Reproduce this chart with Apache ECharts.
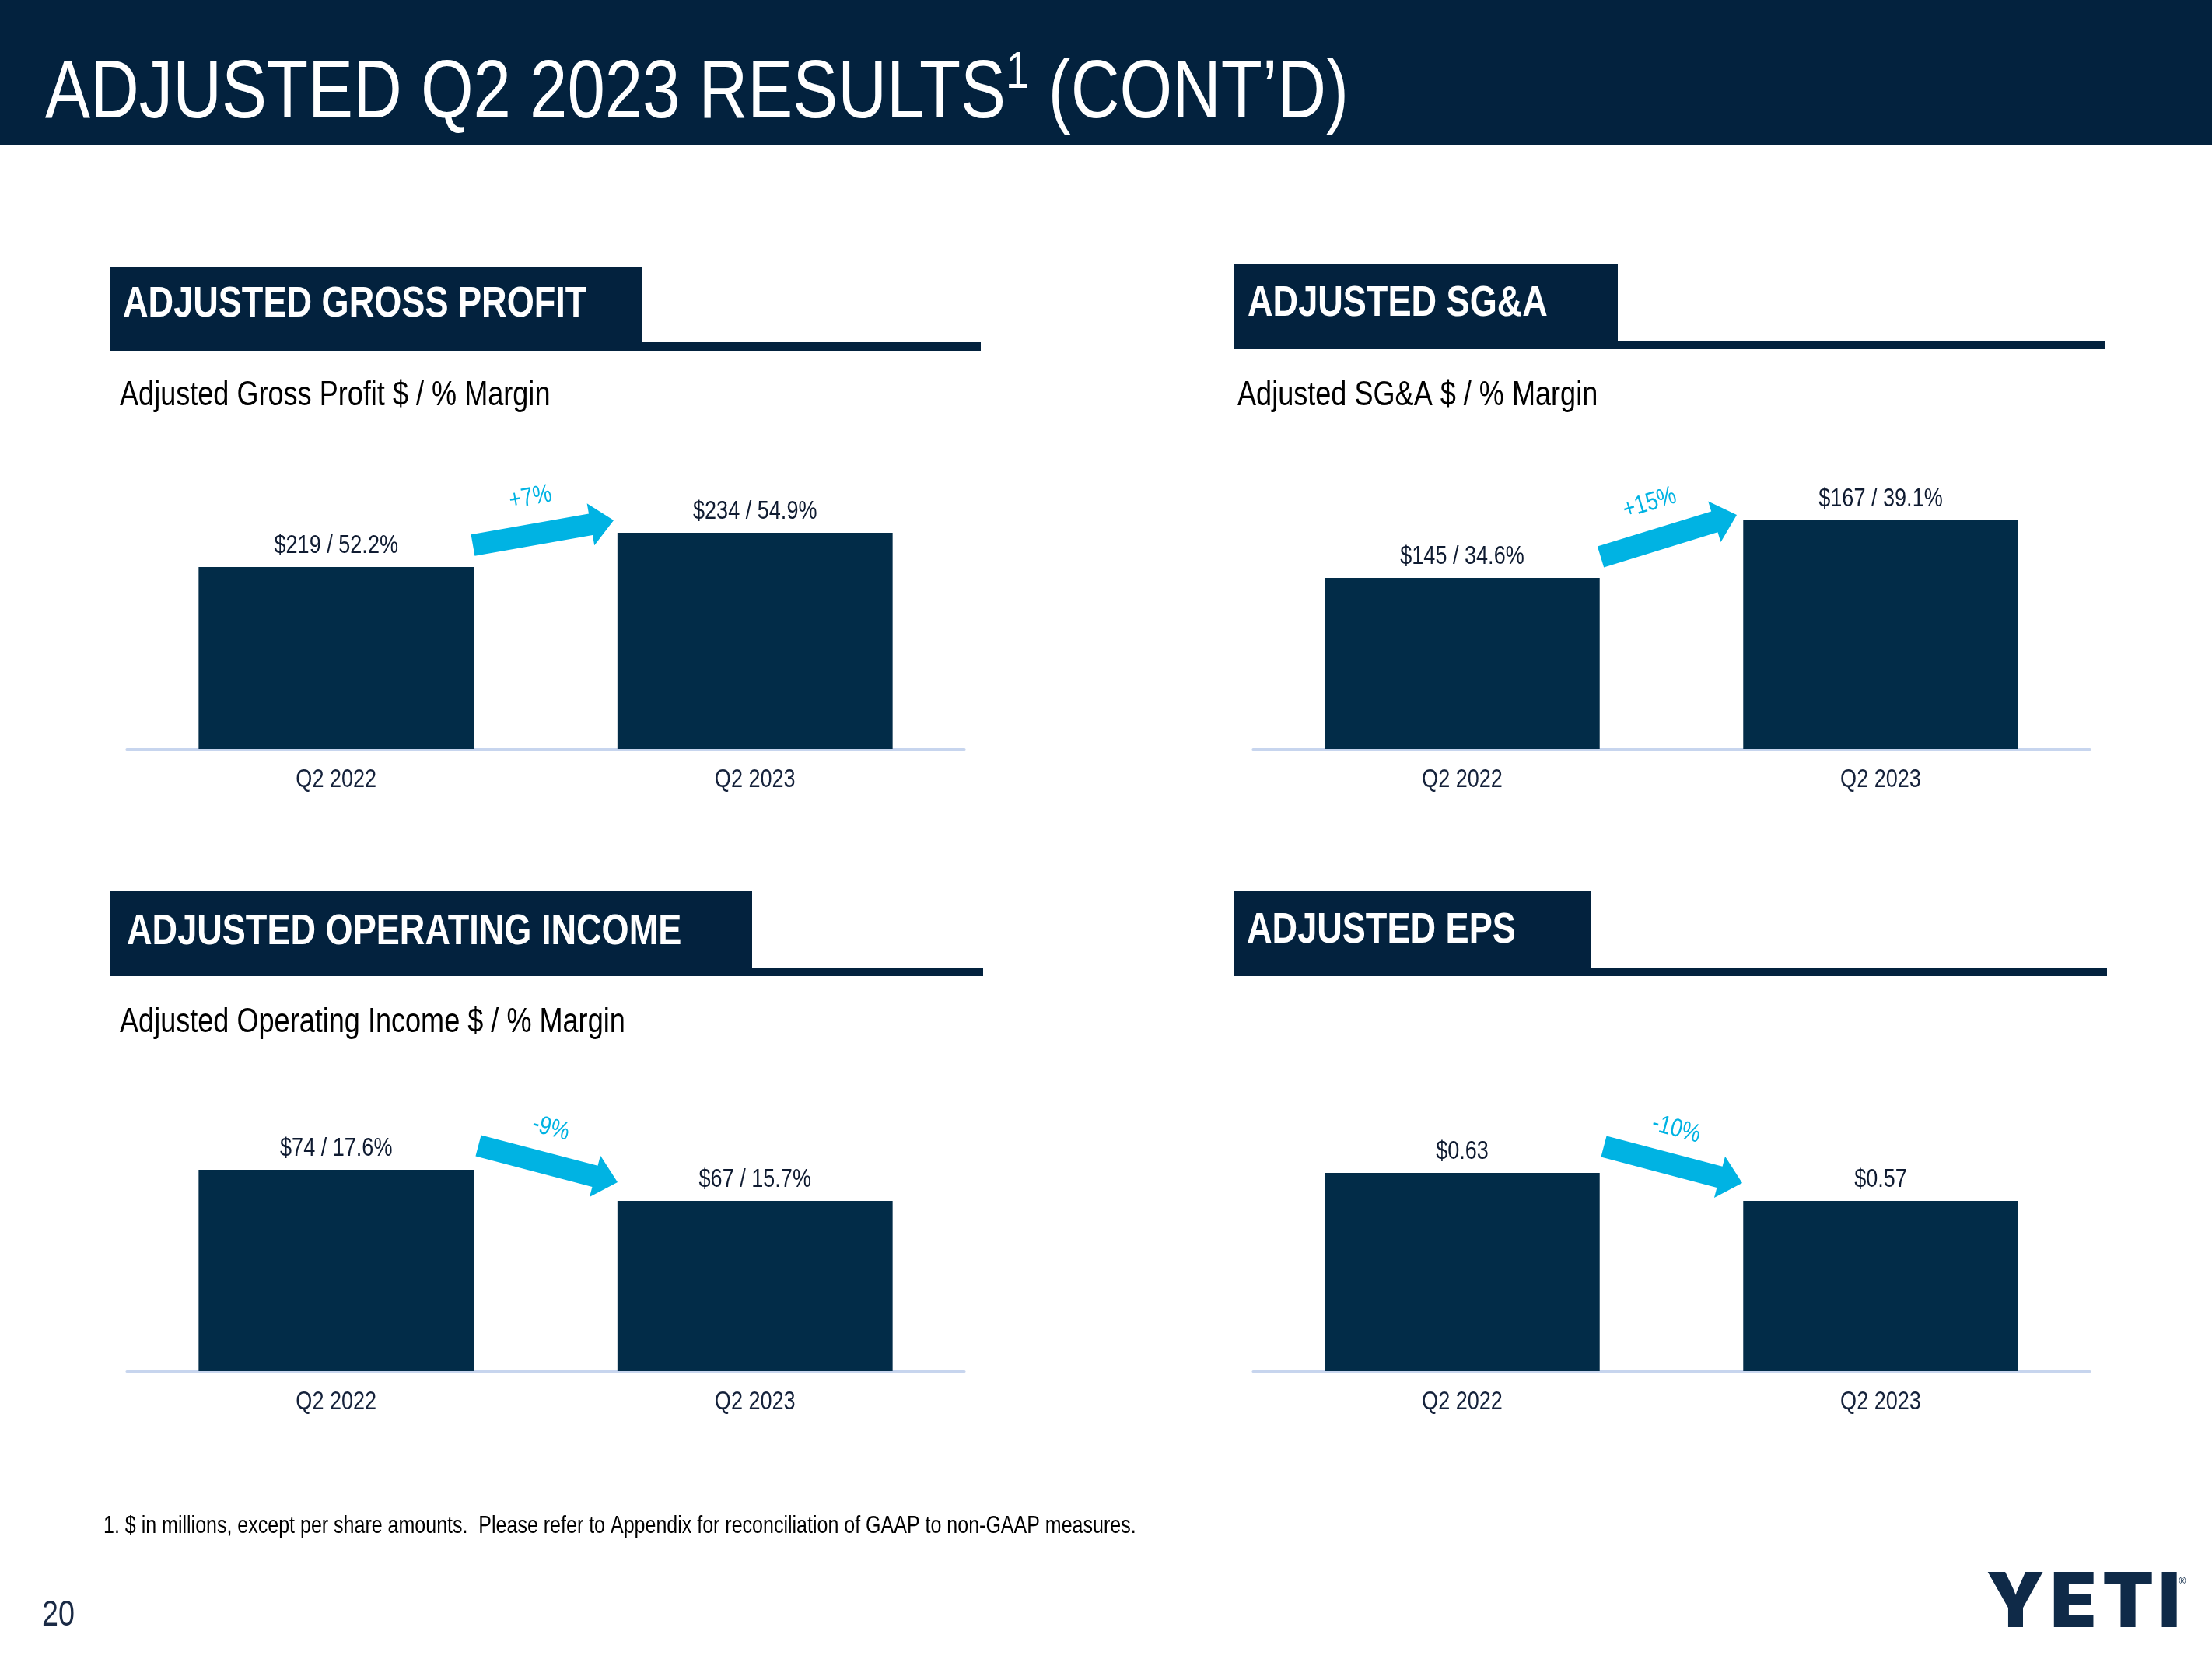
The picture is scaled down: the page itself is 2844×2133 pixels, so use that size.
<!DOCTYPE html>
<html>
<head>
<meta charset="utf-8">
<script src="https://cdn.jsdelivr.net/npm/echarts@6/dist/echarts.min.js"></script>
<style>
  html, body { margin: 0; padding: 0; background: #ffffff; }
  #chart { width: 2844px; height: 2133px; }
</style>
</head>
<body>
<div id="chart"></div>
<script>
// ---- data ----
const categories = ['Q2 2022', 'Q2 2023'];
const grossProfit = [219, 234];
const grossMargin = [52.2, 54.9];
const sgaValues = [145, 167];
const sgaMargin = [34.6, 39.1];
const opIncome = [74, 67];
const opMargin = [17.6, 15.7];
const epsValues = [0.63, 0.57];
const changeLabels = ['+7%', '+15%', '-9%', '-10%'];
const panelTitles = ['ADJUSTED GROSS PROFIT', 'ADJUSTED SG&A', 'ADJUSTED OPERATING INCOME', 'ADJUSTED EPS'];
const panelSubtitles = ['Adjusted Gross Profit $ / % Margin', 'Adjusted SG&A $ / % Margin', 'Adjusted Operating Income $ / % Margin', ''];
const footnote = '1. $ in millions, except per share amounts.  Please refer to Appendix for reconciliation of GAAP to non-GAAP measures.';
const pageNumber = '20';

// ---- narrow-font emulation (Arial Narrow style) when no narrow face is installed ----
(function () {
  const proto = CanvasRenderingContext2D.prototype;
  const c = document.createElement('canvas').getContext('2d');
  c.font = "100px 'Liberation Sans Narrow', monospace";
  const w1 = c.measureText('abcdefghijklmnop').width;
  c.font = '100px monospace';
  const w2 = c.measureText('abcdefghijklmnop').width;
  if (Math.abs(w1 - w2) > 1) return; // real narrow font exists
  const SX = 0.82;
  const isN = ctx => /Narrow/.test(ctx.font);
  const oFill = proto.fillText, oStroke = proto.strokeText, oMeasure = proto.measureText;
  proto.fillText = function (t, x, y) {
    if (!isN(this)) return oFill.apply(this, arguments);
    this.save(); this.translate(x, y); this.scale(SX, 1); oFill.call(this, t, 0, 0); this.restore();
  };
  proto.strokeText = function (t, x, y) {
    if (!isN(this)) return oStroke.apply(this, arguments);
    this.save(); this.translate(x, y); this.scale(SX, 1); oStroke.call(this, t, 0, 0); this.restore();
  };
  proto.measureText = function (t) {
    const m = oMeasure.call(this, t);
    if (!isN(this)) return m;
    return {
      width: m.width * SX,
      actualBoundingBoxAscent: m.actualBoundingBoxAscent,
      actualBoundingBoxDescent: m.actualBoundingBoxDescent,
      actualBoundingBoxLeft: m.actualBoundingBoxLeft * SX,
      actualBoundingBoxRight: m.actualBoundingBoxRight * SX,
      fontBoundingBoxAscent: m.fontBoundingBoxAscent,
      fontBoundingBoxDescent: m.fontBoundingBoxDescent
    };
  };
})();

// ---- style / layout ----
const FONT = "'Liberation Sans Narrow','Arial Narrow','Liberation Sans',Arial,sans-serif";
const NAVY = '#03223e';
const BAR = '#022c48';
const CYAN = '#00b3e3';
const AXIS = '#c7d5ee';

const gridsLayout = [
  { left: 163, top: 600, width: 1077, height: 363 },
  { left: 1611, top: 600, width: 1076, height: 363 },
  { left: 163, top: 1400, width: 1077, height: 363 },
  { left: 1611, top: 1400, width: 1076, height: 363 }
];
const yRanges = [[139.2, 263], [79.6, 187.5], [28.7, 92.2], [0.205, 0.81]];

const seriesValues = [grossProfit, sgaValues, opIncome, epsValues];
const seriesMargins = [grossMargin, sgaMargin, opMargin, null];

const chart = echarts.init(document.getElementById('chart'));

function arrowPoints(x0, y0, x1, y1, shaft, headW, headL) {
  const dx = x1 - x0, dy = y1 - y0;
  const len = Math.sqrt(dx * dx + dy * dy);
  const ux = dx / len, uy = dy / len;
  const nx = -uy, ny = ux;
  const bx = x1 - ux * headL, by = y1 - uy * headL;
  const s = shaft / 2, h = headW / 2;
  return [
    [x0 + nx * s, y0 + ny * s],
    [bx + nx * s, by + ny * s],
    [bx + nx * h, by + ny * h],
    [x1, y1],
    [bx - nx * h, by - ny * h],
    [bx - nx * s, by - ny * s],
    [x0 - nx * s, y0 - ny * s]
  ];
}

const arrows = [
  { from: [608, 701], to: [789, 669], text: [682, 640], rot: 10 },
  { from: [2058, 716], to: [2233, 662], text: [2121, 647], rot: 17 },
  { from: [615, 1473], to: [794, 1520], text: [708, 1451], rot: -15 },
  { from: [2062, 1474], to: [2240, 1521], text: [2155, 1452], rot: -15 }
];

const headers = [
  { box: [141, 343, 684, 108], line: [141, 440, 1120, 11], text: [158, 392] },
  { box: [1587, 340, 493, 109], line: [1587, 438, 1119, 11], text: [1604, 391] },
  { box: [142, 1146, 825, 109], line: [142, 1244, 1122, 11], text: [163, 1199] },
  { box: [1586, 1146, 459, 109], line: [1586, 1244, 1123, 11], text: [1603, 1197] }
];
const subtitlePos = [[154, 509], [1591, 509], [154, 1315], [1591, 1315]];

const graphic = [];
// top banner
graphic.push({ type: 'rect', shape: { x: 0, y: 0, width: 2844, height: 187 }, style: { fill: NAVY }, silent: true });
graphic.push({
  type: 'text', x: 58, y: 122,
  style: {
    text: 'ADJUSTED Q2 2023 RESULTS{sup|1} (CONT\u2019D)',
    fill: '#ffffff', fontSize: 106, fontFamily: FONT,
    lineHeight: 110, verticalAlign: 'middle', align: 'left',
    rich: { sup: { fontSize: 67, fontFamily: FONT, fill: '#ffffff', lineHeight: 66, verticalAlign: 'top' } }
  }
});

headers.forEach((h, i) => {
  graphic.push({ type: 'rect', shape: { x: h.line[0], y: h.line[1], width: h.line[2], height: h.line[3] }, style: { fill: NAVY } });
  graphic.push({ type: 'rect', shape: { x: h.box[0], y: h.box[1], width: h.box[2], height: h.box[3] }, style: { fill: NAVY } });
  graphic.push({
    type: 'text', x: h.text[0], y: h.text[1],
    style: { text: panelTitles[i], fill: '#ffffff', fontSize: 55, fontWeight: 'bold', fontFamily: FONT, verticalAlign: 'middle', align: 'left' }
  });
  if (panelSubtitles[i]) {
    graphic.push({
      type: 'text', x: subtitlePos[i][0], y: subtitlePos[i][1],
      style: { text: panelSubtitles[i], fill: '#000000', fontSize: 44, fontFamily: FONT, verticalAlign: 'middle', align: 'left' }
    });
  }
});

arrows.forEach((a, i) => {
  graphic.push({
    type: 'polygon', z: 10,
    shape: { points: arrowPoints(a.from[0], a.from[1], a.to[0], a.to[1], 28, 55, 30) },
    style: { fill: CYAN }
  });
  graphic.push({
    type: 'text', z: 10, x: a.text[0], y: a.text[1], rotation: a.rot * Math.PI / 180,
    style: { text: changeLabels[i], fill: CYAN, fontSize: 33, fontFamily: FONT, align: 'center', verticalAlign: 'middle' }
  });
});

// footnote & page number
graphic.push({ type: 'text', x: 133, y: 1963, style: { text: footnote, fill: '#000000', fontSize: 30.5, fontFamily: FONT, verticalAlign: 'middle', align: 'left' } });
graphic.push({ type: 'text', x: 54, y: 2077, style: { text: pageNumber, fill: '#1a2a45', fontSize: 46, fontFamily: FONT, verticalAlign: 'middle', align: 'left' } });

// YETI logo as heavy text
const logoLetters = [['Y', 2591], ['E', 2666], ['T', 2736], ['I', 2789]];
logoLetters.forEach(l => {
  graphic.push({ type: 'text', x: l[1], y: 2063, style: { text: l[0], fill: '#0f2a48', fontSize: 97, fontWeight: 900, fontFamily: "Inter, 'DejaVu Sans', sans-serif", align: 'center', verticalAlign: 'middle' } });
});
graphic.push({ type: 'text', x: 2806, y: 2034, style: { text: '\u00AE', fill: '#0f2a48', fontSize: 12, fontFamily: 'Arial, sans-serif', align: 'center', verticalAlign: 'middle' } });

const option = {
  backgroundColor: '#ffffff',
  animation: false,
  grid: gridsLayout.map(g => Object.assign({ containLabel: false }, g)),
  xAxis: gridsLayout.map((g, i) => ({
    type: 'category', gridIndex: i, data: categories,
    axisLine: { show: true, lineStyle: { color: AXIS, width: 3 } },
    axisTick: { show: false },
    axisLabel: { color: '#15223b', fontSize: 33, fontFamily: FONT, margin: 26 },
    splitLine: { show: false }
  })),
  yAxis: gridsLayout.map((g, i) => ({
    type: 'value', gridIndex: i, min: yRanges[i][0], max: yRanges[i][1], show: false, splitLine: { show: false }
  })),
  series: seriesValues.map((vals, i) => ({
    type: 'bar', xAxisIndex: i, yAxisIndex: i, data: vals,
    barCategoryGap: '34.3%',
    itemStyle: { color: BAR },
    label: {
      show: true, position: 'top', distance: 14,
      color: '#0f1b31', fontSize: 33, fontFamily: FONT,
      formatter: p => {
        const m = seriesMargins[i];
        if (m) return '$' + p.value + ' / ' + m[p.dataIndex].toFixed(1) + '%';
        return '$' + p.value.toFixed(2);
      }
    }
  })),
  graphic: graphic
};
chart.setOption(option);
</script>
</body>
</html>
